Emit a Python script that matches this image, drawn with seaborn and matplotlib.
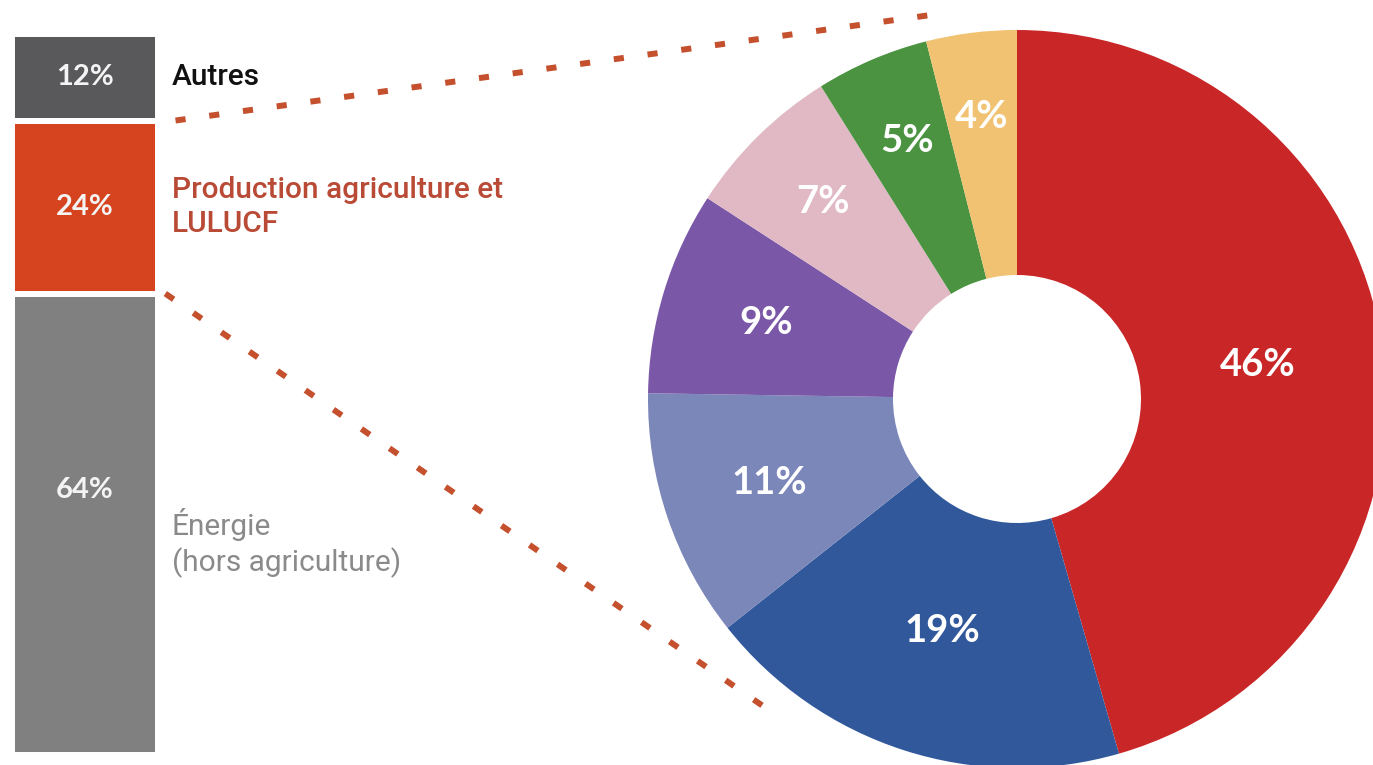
import matplotlib
matplotlib.use("Agg")
import matplotlib.pyplot as plt
import matplotlib.transforms as mtransforms
from matplotlib.patches import ConnectionPatch
import numpy as np
import seaborn as sns

# Overall emissions split (stacked column, bottom to top)
sector_names = ["Énergie\n(hors agriculture)", "Production agriculture et\nLULUCF", "Autres"]
sector_shares = [64, 24, 12]
sector_labels = ["64%", "24%", "12%"]
sector_colors = ["#808080", "#d5441e", "#59595b"]
sector_text_colors = ["#8a8a8a", "#b94a36", "#111111"]

# Breakdown of the agriculture + LULUCF share (ring, clockwise from the top)
detail_shares = [46, 19, 11, 9, 7, 5, 4]
detail_labels = ["46%", "19%", "11%", "9%", "7%", "5%", "4%"]
detail_colors = ["#c92627", "#30589b", "#7b86b9", "#7a58a7",
                 "#e0b9c5", "#4b9341", "#f0c271"]

W, H = 1373, 765
sns.set_theme(style="white")
plt.rcParams["font.family"] = ["Roboto", "DejaVu Sans"]

fig = plt.figure(figsize=(W / 100, H / 100), dpi=100)
fig.patch.set_facecolor("white")


def px_box(x0, y0, x1, y1):
    return [x0 / W, 1 - y1 / H, (x1 - x0) / W, (y1 - y0) / H]


# ---- stacked column -------------------------------------------------------
ax_bar = fig.add_axes(px_box(12, 34, 158, 755))
bottom = 0
seg_bottoms = []
for share, color in zip(sector_shares, sector_colors):
    seg_bottoms.append(bottom)
    sns.barplot(x=[0], y=[share], bottom=bottom, color=color, width=1,
                saturation=1, edgecolor="white", linewidth=4.3, ax=ax_bar)
    bottom += share
ax_bar.set_xlim(-0.5, 0.5)
ax_bar.set_ylim(0, 100)
ax_bar.axis("off")

value_pos = [0.575, 0.5, 0.5]
name_pos = [0.46, 0.5, 0.5]
name_weights = ["normal", "medium", "medium"]
name_trans = mtransforms.blended_transform_factory(fig.transFigure, ax_bar.transData)
for b, share, lab, name, tcol, vp, npos, wt in zip(seg_bottoms, sector_shares,
                                                  sector_labels, sector_names,
                                                  sector_text_colors, value_pos,
                                                  name_pos, name_weights):
    ax_bar.text(0, b + share * vp, lab, ha="center", va="center", color="#f4f4f4",
                fontsize=21, fontweight="bold", family=["Lato", "DejaVu Sans"])
    ax_bar.text(172 / W, b + share * npos, name, transform=name_trans, ha="left",
                va="center", color=tcol, fontsize=21.5, linespacing=1.25,
                fontweight=wt)

# ---- ring -----------------------------------------------------------------
ax_pie = fig.add_axes(px_box(648, 30, 1386, 768))
wedges, _ = ax_pie.pie(detail_shares, colors=detail_colors, startangle=90,
                       counterclock=False, radius=1,
                       wedgeprops=dict(width=1 - 124 / 369, linewidth=0))
ax_pie.set_xlim(-1, 1)
ax_pie.set_ylim(-1, 1)
ax_pie.set_aspect("equal")
ax_pie.axis("off")

label_radius = [0.66, 0.66, 0.71, 0.71, 0.75, 0.76, 0.77]
for w, lab, r in zip(wedges, detail_labels, label_radius):
    theta = np.deg2rad((w.theta1 + w.theta2) / 2)
    ax_pie.text(r * np.cos(theta), r * np.sin(theta), lab, ha="center", va="center",
                color="white", fontsize=27.5, fontweight="bold",
                family=["Lato", "DejaVu Sans"])

# ---- dotted connectors from the agriculture segment to the ring -----------
agri_bottom = seg_bottoms[1]
agri_top = agri_bottom + sector_shares[1]
for yA, xA, xyB in [(agri_top, 0.62, (-0.217, 1.043)),
                    (agri_bottom, 0.55, (-0.661, -0.851))]:
    con = ConnectionPatch(xyA=(xA, yA), coordsA=ax_bar.transData,
                          xyB=xyB, coordsB=ax_pie.transData,
                          color="#c4502e", linewidth=4.3, linestyle=(0, (1.7, 4.0)),
                          capstyle="butt")
    fig.add_artist(con)

fig.savefig("out.png", dpi=100, facecolor="white")
